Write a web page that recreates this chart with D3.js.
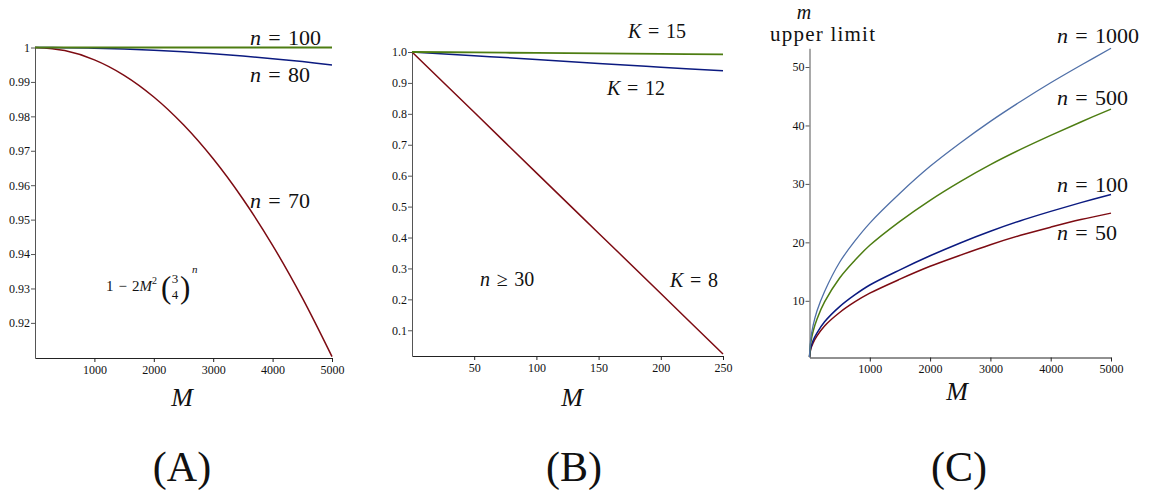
<!DOCTYPE html>
<html>
<head>
<meta charset="utf-8">
<script src="https://cdn.jsdelivr.net/npm/d3@7"></script>
<style>
  body { margin: 0; background: #fff; }
  text { font-family: "Liberation Serif", "Times New Roman", "DejaVu Serif", serif; fill: #111; }
</style>
</head>
<body>
<div id="chart"></div>
<script>
// Panel A: 1 - 2M^2 (3/4)^n against M
const mA = [0, 500, 1000, 1500, 2000, 2500, 3000, 3500, 4000, 4500, 5000];
const aN70 = [1, 0.99910, 0.99641, 0.99192, 0.98563, 0.97755, 0.96767, 0.95600, 0.94253, 0.92726, 0.91020];
const aN80 = [1, 0.99995, 0.99980, 0.99954, 0.99919, 0.99874, 0.99818, 0.99752, 0.99676, 0.99590, 0.99494];
const aN100 = [1, 1, 1, 1, 1, 0.99999, 0.99999, 0.99999, 0.99998, 0.99998, 0.99998];
const ticksAx = [1000, 2000, 3000, 4000, 5000];
const ticksAy = [0.92, 0.93, 0.94, 0.95, 0.96, 0.97, 0.98, 0.99, 1];

// Panel B: n >= 30, K = 8, 12, 15
const mB = [0, 50, 100, 150, 200, 250];
const bK8 = [1, 0.805, 0.609, 0.414, 0.219, 0.023];
const bK12 = [1, 0.988, 0.976, 0.963, 0.951, 0.939];
const bK15 = [1, 0.9985, 0.9969, 0.9954, 0.9939, 0.9924];
const ticksBx = [50, 100, 150, 200, 250];
const ticksBy = [0.1, 0.2, 0.3, 0.4, 0.5, 0.6, 0.7, 0.8, 0.9, 1.0];

// Panel C: m upper limit against M
const mC = [0, 20, 60, 125, 250, 500, 750, 1000, 1500, 2000, 2500, 3000, 3500, 4000, 4500, 5000];
const cN1000 = [0.4, 3.4, 5.8, 8.3, 11.6, 16.6, 20.2, 23.3, 28.4, 33.0, 37.0, 40.7, 44.1, 47.3, 50.3, 53.2];
const cN500 = [0.4, 2.8, 4.8, 6.9, 9.8, 13.9, 16.9, 19.5, 23.6, 27.2, 30.4, 33.3, 35.9, 38.3, 40.6, 42.8];
const cN100 = [0.4, 1.9, 3.2, 4.5, 6.4, 9.0, 11.0, 12.7, 15.3, 17.7, 19.9, 21.9, 23.7, 25.3, 26.8, 28.2];
const cN50 = [0.4, 1.7, 2.8, 4.0, 5.7, 8.0, 9.8, 11.3, 13.7, 15.9, 17.8, 19.6, 21.2, 22.6, 23.9, 25.0];
const ticksCx = [1000, 2000, 3000, 4000, 5000];
const ticksCy = [10, 20, 30, 40, 50];

const RED = "#7d0b12", NAVY = "#0b1a80", GREEN = "#4d7d12", STEEL = "#5070a8";
const SERIF = "Liberation Serif, Times New Roman, DejaVu Serif, serif";

const svg = d3.select("#chart")
    .append("svg")
    .attr("width", 1149)
    .attr("height", 491);

// draws x and y axes with major and minor ticks
function axes(x, y, xMajor, xMinor, yMajor, yMinor, yFmt) {
    const y0 = y.range()[0], x0 = x.range()[0];
    const gx = svg.append("g").attr("transform", `translate(0,${y0})`);
    gx.call(d3.axisBottom(x).tickValues(xMinor).tickSize(2.5).tickSizeOuter(0).tickFormat(""));
    gx.call(d3.axisBottom(x).tickValues(xMajor).tickSize(4).tickSizeOuter(0).tickPadding(3).tickFormat(d3.format("d")));
    const gy = svg.append("g").attr("transform", `translate(${x0},0)`);
    gy.call(d3.axisLeft(y).tickValues(yMinor).tickSize(2.5).tickSizeOuter(0).tickFormat(""));
    gy.call(d3.axisLeft(y).tickValues(yMajor).tickSize(4).tickSizeOuter(0).tickPadding(1).tickFormat(yFmt));
    [gx, gy].forEach(g => g.attr("font-family", SERIF).attr("font-size", 12));
    svg.selectAll(".tick text").attr("fill", "#111");
    gx.selectAll("path, line").attr("stroke", "#222");
    gy.selectAll("path, line").attr("stroke", "#555");
}

function curve(xs, ys, x, y, color, w) {
    const line = d3.line()
        .x((d, i) => x(xs[i]))
        .y(d => y(d))
        .curve(d3.curveCatmullRom.alpha(0.5));
    svg.append("path")
        .datum(ys)
        .attr("fill", "none")
        .attr("stroke", color)
        .attr("stroke-width", w)
        .attr("d", line);
}

// "v = val" label with italic variable
function label(x, y, v, rel, val, size) {
    const t = svg.append("text")
        .attr("x", x).attr("y", y)
        .attr("font-size", size);
    t.append("tspan").attr("font-style", "italic").text(v);
    t.append("tspan").text("\u2004" + rel + "\u2004" + val);
}

function bigText(x, y, s, size, italic) {
    svg.append("text")
        .attr("x", x).attr("y", y)
        .attr("text-anchor", "middle")
        .attr("font-size", size)
        .attr("font-style", italic ? "italic" : "normal")
        .text(s);
}

// ---- Panel A
const xA = d3.scaleLinear().domain([0, 5000]).range([35, 332]);
const yA = d3.scaleLinear().domain([0.9098, 1]).range([358, 47.5]);
axes(xA, yA, ticksAx, d3.range(500, 5000, 1000), ticksAy,
     d3.range(0.915, 1, 0.01), d => d === 1 ? "1" : d.toFixed(2));
curve(mA, aN70, xA, yA, RED, 1.5);
curve(mA, aN80, xA, yA, NAVY, 1.5);
curve(mA, aN100, xA, yA, GREEN, 2);
label(250, 45, "n", "=", "100", 22);
label(250, 82, "n", "=", "80", 22);
label(250, 208, "n", "=", "70", 22);

// formula 1 - 2M^2 (3/4)^n
const f = svg.append("text").attr("x", 106).attr("y", 291).attr("font-size", 15);
f.append("tspan").text("1\u2004\u2212\u20042");
f.append("tspan").attr("font-style", "italic").text("M");
f.append("tspan").attr("font-size", 10).attr("dy", -7).text("2");
svg.append("text").attr("x", 161).attr("y", 298).attr("font-size", 31).text("(");
svg.append("text").attr("x", 175).attr("y", 283).attr("font-size", 13).attr("text-anchor", "middle").text("3");
svg.append("text").attr("x", 175).attr("y", 299).attr("font-size", 13).attr("text-anchor", "middle").text("4");
svg.append("text").attr("x", 180).attr("y", 298).attr("font-size", 31).text(")");
svg.append("text").attr("x", 192).attr("y", 273).attr("font-size", 11).attr("font-style", "italic").text("n");

bigText(182, 406, "M", 26, true);
bigText(182, 481, "(A)", 42, false);

// ---- Panel B
const xB = d3.scaleLinear().domain([0, 250]).range([412, 723]);
const yB = d3.scaleLinear().domain([0.0168, 1]).range([356, 52]);
axes(xB, yB, ticksBx, d3.range(10, 250, 10).filter(d => d % 50 !== 0), ticksBy,
     d3.range(0.05, 1, 0.1), d => d.toFixed(1));
curve(mB, bK8, xB, yB, RED, 1.5);
curve(mB, bK12, xB, yB, NAVY, 1.5);
curve(mB, bK15, xB, yB, GREEN, 1.8);
label(628, 38, "K", "=", "15", 20);
label(607, 95, "K", "=", "12", 20);
label(670, 287, "K", "=", "8", 20);
label(480, 286, "n", "\u2265", "30", 20);

bigText(572, 406, "M", 26, true);
bigText(574, 481, "(B)", 42, false);

// ---- Panel C
const xC = d3.scaleLinear().domain([0, 5000]).range([809.5, 1111]);
const yC = d3.scaleLinear().domain([0.3, 53.2]).range([357.5, 48.3]);
axes(xC, yC, ticksCx, d3.range(500, 5000, 1000), ticksCy,
     d3.range(5, 50, 10), d3.format("d"));
curve(mC, cN50, xC, yC, RED, 1.5);
curve(mC, cN100, xC, yC, NAVY, 1.5);
curve(mC, cN500, xC, yC, GREEN, 1.5);
curve(mC, cN1000, xC, yC, STEEL, 1.3);
label(1057, 43, "n", "=", "1000", 22);
label(1057, 105, "n", "=", "500", 22);
label(1057, 192, "n", "=", "100", 22);
label(1057, 240, "n", "=", "50", 22);

svg.append("text").attr("x", 804).attr("y", 19).attr("font-size", 20)
    .attr("font-style", "italic").attr("text-anchor", "middle").text("m");
svg.append("text").attr("x", 770).attr("y", 41).attr("font-size", 21)
    .attr("textLength", 105).attr("lengthAdjust", "spacing").text("upper limit");

bigText(957, 400, "M", 26, true);
bigText(959, 481, "(C)", 42, false);
</script>
</body>
</html>
